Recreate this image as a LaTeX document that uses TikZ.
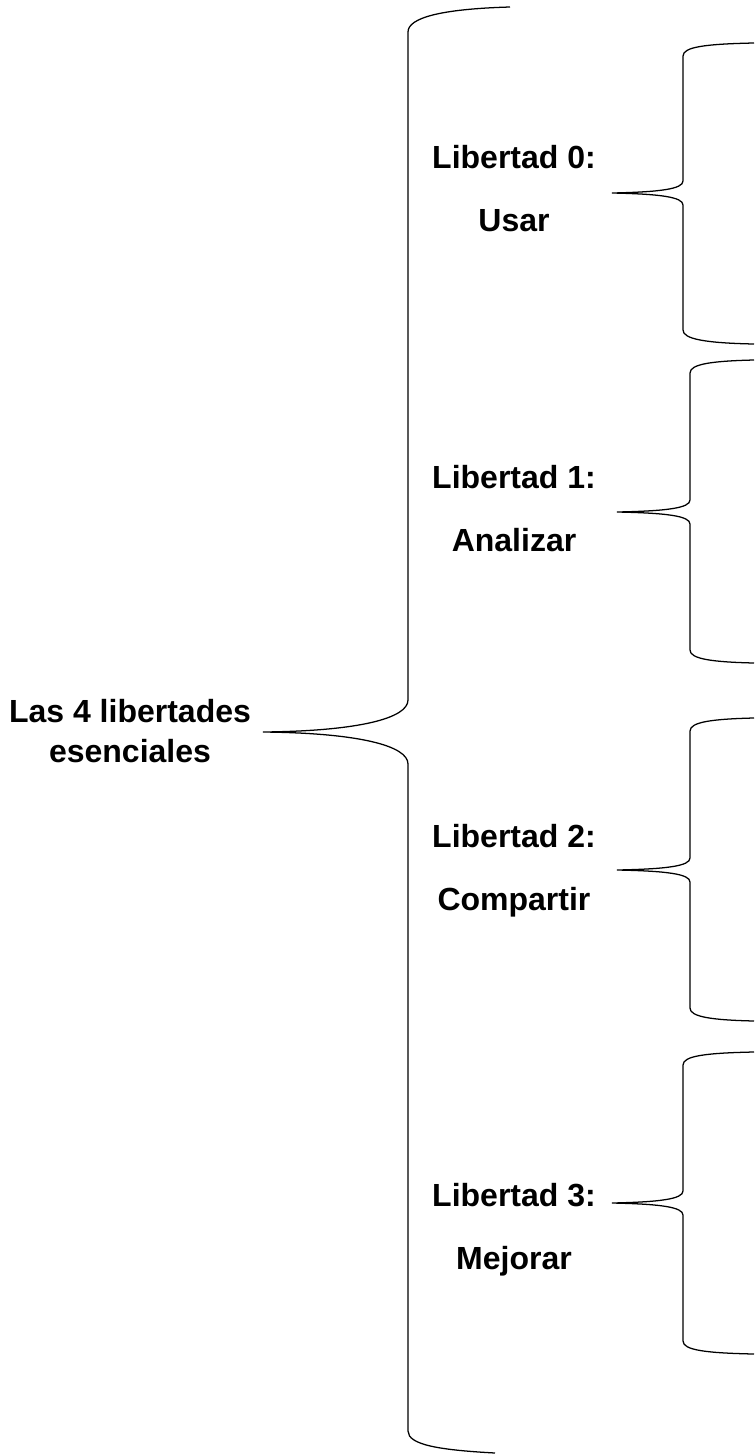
\documentclass[tikz,border=0pt]{standalone}
\usepackage{fontspec}
\setmainfont{Liberation Sans}
\begin{document}
\begin{tikzpicture}[x=0.75pt,y=-0.75pt,
  lab/.style={align=center,inner sep=0pt,font=\fontsize{24}{47.25}\selectfont\bfseries},
  mainlab/.style={align=center,inner sep=0pt,font=\fontsize{24}{30}\selectfont\bfseries},
  brace/.style={draw=black,line width=0.95pt}]
\useasboundingbox (0,0) rectangle (754,1454);
% labels
\node[mainlab] (main) at (130,731) {Las 4 libertades\\esenciales};
\node[lab] (l0) at (514,189) {Libertad 0:\\Usar};
\node[lab] (l1) at (514,509) {Libertad 1:\\Analizar};
\node[lab] (l2) at (514,871) {Libertad 2:\\Compartir};
\node[lab] (l3) at (514,1230) {Libertad 3:\\Mejorar};
% tips
\coordinate (tm) at (263,732);
\coordinate (t0) at (612,193);
\coordinate (t1) at (617,512);
\coordinate (t2) at (617,870);
\coordinate (t3) at (612,1203);
% big brace
\draw[brace] (510,7) .. controls (440,9) and (408,18) .. (408,32) -- (408,700)
  .. controls (408,718) and (360,731) .. (tm)
  .. controls (360,733) and (408,746) .. (408,764) -- (408,1431)
  .. controls (408,1445) and (440,1450) .. (495,1453);
% brace 0
\draw[brace] (754,43) .. controls (705,44) and (683,47) .. (683,56) -- (683,181)
  .. controls (683,189) and (660,192) .. (t0)
  .. controls (660,194) and (683,197) .. (683,205) -- (683,330)
  .. controls (683,339) and (705,343) .. (754,344);
% brace 1
\draw[brace] (754,360) .. controls (712,361) and (690,364) .. (690,373) -- (690,500)
  .. controls (690,508) and (667,511) .. (t1)
  .. controls (667,513) and (690,516) .. (690,524) -- (690,650)
  .. controls (690,659) and (712,662) .. (754,663);
% brace 2
\draw[brace] (754,718) .. controls (712,719) and (690,722) .. (690,731) -- (690,858)
  .. controls (690,866) and (667,869) .. (t2)
  .. controls (667,871) and (690,874) .. (690,882) -- (690,1008)
  .. controls (690,1017) and (712,1020) .. (754,1021);
% brace 3
\draw[brace] (754,1052) .. controls (705,1053) and (683,1056) .. (683,1065) -- (683,1191)
  .. controls (683,1199) and (660,1202) .. (t3)
  .. controls (660,1204) and (683,1207) .. (683,1215) -- (683,1341)
  .. controls (683,1350) and (705,1353) .. (754,1354);
\end{tikzpicture}
\end{document}
